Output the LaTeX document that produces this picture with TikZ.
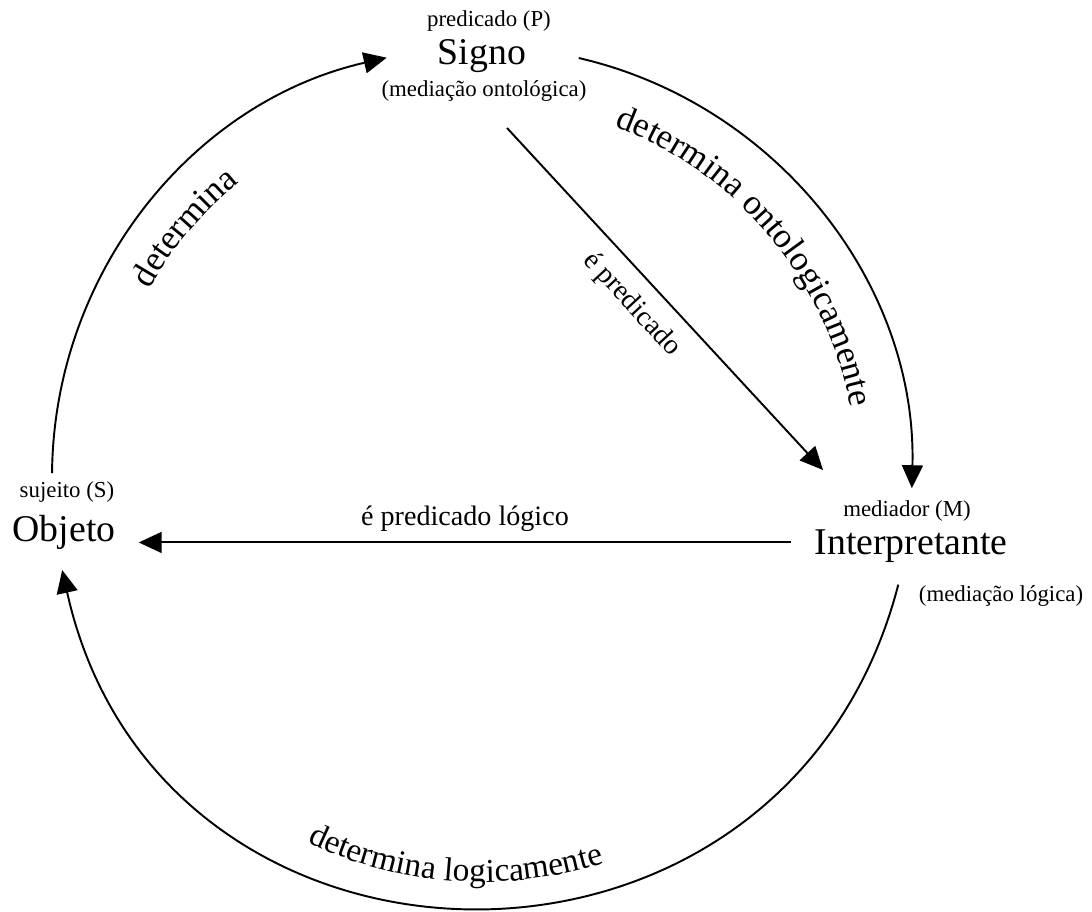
\documentclass[tikz,border=0pt]{standalone}
\usepackage{fontspec}
\setmainfont{Liberation Serif}
\usetikzlibrary{arrows.meta,decorations.text}

\newcommand{\bigfont}{\fontsize{21.5}{26}\selectfont}
\newcommand{\rolefont}{\fontsize{13}{16}\selectfont}
\newcommand{\edgefont}{\fontsize{16}{19}\selectfont}
\newcommand{\arcfont}{\fontsize{20}{24}\selectfont}

\tikzset{
  term/.style={anchor=base, font=\bigfont, inner xsep=0.46cm},
  role/.style={anchor=base, font=\rolefont, inner sep=0pt},
  flow/.style={-{Triangle[length=0.46cm,width=0.42cm]}, line width=1.1pt},
  arctext/.style={decorate, decoration={text along path, text align=center, text={|\arcfont|#1}}}
}

\begin{document}
\begin{tikzpicture}[x=0.02cm, y=0.02cm]
  \useasboundingbox (0,0) rectangle (1092,912);

  \node[term] (signo) at (482,847) {Signo};
  \node[role] (pred) at (489,885) {predicado (P)};
  \node[role] (medont) at (484,815) {(mediação ontológica)};

  \node[term] (objeto) at (64,370) {Objeto};
  \node[role] (sujeito) at (67,414) {sujeito (S)};

  \node[term] (interp) at (911,357) {Interpretante};
  \node[role] (mediador) at (907,395) {mediador (M)};
  \node[role] (medlog) at (1001,310) {(mediação lógica)};

  % the big circle and its ends
  \coordinate (ctr) at (482,435);
  \coordinate (o1) at ([shift={(ctr)}]179.5:430);
  \coordinate (s1) at ([shift={(ctr)}]102.8:430);
  \coordinate (s2) at ([shift={(ctr)}]77:430);
  \coordinate (i1) at ([shift={(ctr)}]-1.5:430);
  \coordinate (i2) at ([shift={(ctr)}]-14.5:430);
  \coordinate (o2) at ([shift={(ctr)}]-167.5:430);
  \coordinate (p1) at (507,784);
  \coordinate (p2) at (823,442);

  \draw[flow] (o1) to[out=89.5, in=192.8, looseness=0.96] (s1);
  \draw[flow] (s2) to[out=-13, in=88.5, looseness=0.96] (i1);
  \draw[flow] (i2) to[out=-104.5, in=-77.5, looseness=1.38] (o2);

  \draw[flow] (p1) -- node[pos=0.46, sloped, below=5pt, font=\edgefont] (epred) {é predicado} (p2);
  \draw[flow] ([yshift=0.17cm]interp.mid west) coordinate (h1) -- (h1 -| objeto.east)
    node[midway, above=3.5pt, inner sep=2pt, font=\edgefont] (eplog) {é predicado lógico};

  % labels along the circle
  \path[arctext=determina] ([shift={(ctr)}]160:382) arc[start angle=160, end angle=120, radius=382];
  \path[arctext=determina ontologicamente] ([shift={(ctr)}]78:375) arc[start angle=78, end angle=2, radius=375];
  \path[decorate, decoration={text along path, text align=center, text={|\fontsize{19}{23}\selectfont|determina logicamente}}]
    ([shift={(ctr)}]-126:405) arc[start angle=-126, end angle=-62, radius=405];
\end{tikzpicture}
\end{document}
